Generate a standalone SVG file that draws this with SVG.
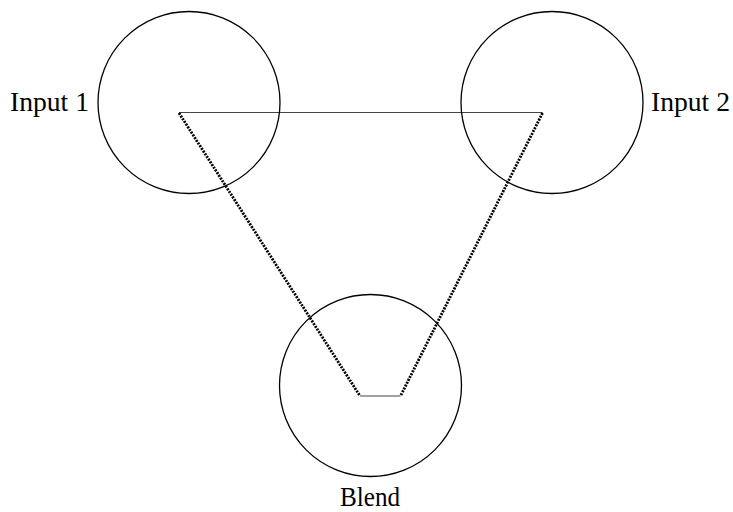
<svg xmlns="http://www.w3.org/2000/svg" width="733" height="512" viewBox="0 0 733 512">
<style>
.node circle{fill:none;stroke:#000;stroke-width:1.3}
.lbl{font-family:"Liberation Serif",serif;font-size:27px;fill:#000}
.solid{stroke:#444;stroke-width:1.2;fill:none}
.dot{stroke:#000;stroke-width:2.8;stroke-dasharray:2 1.2;fill:none}
</style>
<rect width="733" height="512" fill="#fff"/>
<g id="connectors">
<line class="solid" x1="179" y1="112.5" x2="542.5" y2="112.5"/>
<line class="dot" x1="179" y1="113" x2="360" y2="396"/>
<line class="dot" x1="542.5" y1="113" x2="400.5" y2="396"/>
<line class="solid" x1="360" y1="396" x2="400.5" y2="396"/>
</g>
<g id="input1" class="node">
<circle cx="189" cy="102.5" r="91"/>
<text class="lbl" x="10" y="111" textLength="79" lengthAdjust="spacingAndGlyphs">Input 1</text>
</g>
<g id="input2" class="node">
<circle cx="552" cy="102.5" r="91"/>
<text class="lbl" x="651" y="111" textLength="79" lengthAdjust="spacingAndGlyphs">Input 2</text>
</g>
<g id="blend" class="node">
<circle cx="370.5" cy="385.5" r="91"/>
<text class="lbl" x="340" y="506" textLength="60" lengthAdjust="spacingAndGlyphs">Blend</text>
</g>
</svg>
